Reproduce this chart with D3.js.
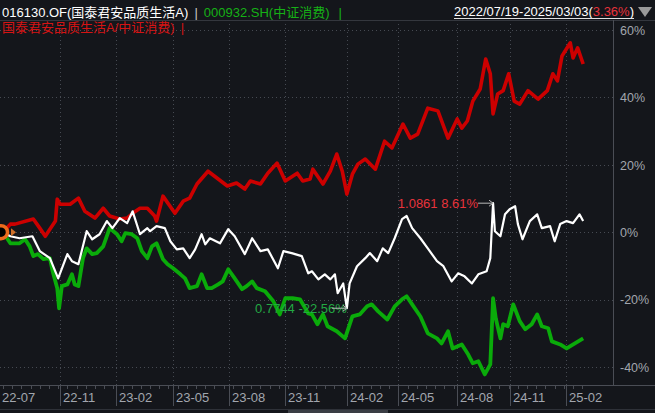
<!DOCTYPE html>
<html><head><meta charset="utf-8">
<script src="https://cdn.jsdelivr.net/npm/d3@7/dist/d3.min.js"></script>
<style>
html,body{margin:0;padding:0;background:#14161b;overflow:hidden}
svg{display:block}
</style></head><body>
<svg id="c" width="655" height="413"></svg>
<script>
// ---- data (trading-day index from 2022-07-19, cumulative return %) ----
const tickLabels = ["22-07","22-11","23-02","23-05","23-08","23-11","24-02","24-05","24-08","24-11","25-02"];
const tickDays   = [0, 62, 123, 185, 246, 307, 374, 430, 494, 551, 612];
const yTicks = [-40, -20, 0, 20, 40, 60];

const redDays = [0,8,13,33,40,46,51,57,59,62,73,82,89,100,109,116,127,135,141,149,157,165,167,174,187,196,203,211,223,233,244,254,263,269,280,288,298,307,320,326,334,337,348,356,363,369,374,380,386,394,405,415,423,435,443,451,462,473,484,494,499,505,511,519,525,530,533,538,544,550,556,562,571,582,592,598,603,608,617,620,625,631];
const redPct  = [0,2.4,2.4,3.9,1.2,-1.2,0.9,3.3,9.8,8.3,8.3,10.1,6.2,4.2,7.1,4.8,3.9,4.2,5.6,7.1,7.1,4.8,3.3,10.7,5.6,9.2,10.1,14.3,18.1,16.0,13.7,14.6,12.8,15.2,14.3,17.5,20.5,15.2,17.5,15.2,15.8,18.7,14.3,18.1,23.2,18.1,11.3,17.2,20.2,21.7,18.7,27.0,25.0,32.1,27.9,29.1,36.8,36.0,27.9,33.6,30.9,33.0,38.9,42.5,51.4,47.0,35.1,41.0,42.0,47.0,38.9,38.0,42.0,39.5,42.0,47.0,44.9,52.3,56.2,51.7,54.7,49.9];

const greenDays = [0,8,18,24,29,33,38,44,51,54,59,61,64,70,75,78,82,87,91,97,102,109,116,124,129,133,140,146,151,157,162,167,174,179,185,193,198,203,211,216,222,227,234,239,245,252,260,265,271,276,285,294,301,307,315,323,332,336,342,348,353,363,372,380,388,396,401,408,418,426,434,439,445,454,462,472,477,484,489,499,506,511,517,524,530,532,533,536,541,544,549,555,562,568,575,581,586,593,597,606,613,622,631];
const greenPct  = [0,-3.3,-3.3,-2.1,-4.2,-7.1,-6.5,-8.0,-7.7,-11.6,-16.6,-22.6,-16.0,-15.5,-12.5,-15.5,-16.0,-7.7,-4.8,-6.5,-6.2,-4.2,1.2,-0.6,-2.7,-0.3,-0.6,-1.8,-5.6,-7.7,-4.2,-3.3,-8.0,-9.5,-10.7,-12.5,-13.7,-16.6,-16.0,-12.5,-16.6,-16.6,-15.5,-14.6,-11.0,-13.7,-16.9,-16.0,-14.6,-16.6,-17.5,-20.5,-24.4,-19.6,-19.6,-19.9,-24.1,-24.4,-27.3,-24.4,-27.9,-29.4,-31.5,-25.0,-24.4,-22.0,-21.4,-23.5,-25.9,-22.0,-19.9,-19.0,-21.4,-25.0,-30.0,-31.5,-33.0,-29.4,-34.5,-33.3,-36.3,-38.9,-38.3,-42.2,-39.2,-26.4,-19.6,-25.6,-31.5,-27.3,-27.9,-21.4,-26.4,-28.8,-27.3,-24.4,-27.9,-28.5,-32.4,-33.3,-34.5,-33.0,-31.5];

const whiteDays = [0,8,18,32,40,51,60,70,75,82,91,97,105,113,119,127,135,141,149,157,160,167,176,182,189,196,203,209,216,220,225,236,245,252,263,271,280,288,299,305,314,325,332,336,343,350,356,361,364,370,374,377,385,394,399,407,413,419,426,434,439,445,454,462,472,479,488,495,502,510,517,526,530,533,535,541,546,551,557,560,565,573,581,586,595,600,606,613,620,627,631];
const whitePct  = [0,-1.2,-1.8,-1.2,-5.6,-7.7,-13.7,-6.5,-8.6,-9.5,0.3,-2.1,-0.6,3.3,1.2,4.2,2.7,6.2,-0.6,1.2,0.3,1.8,1.2,-2.7,-5.1,-4.8,-7.7,-5.1,-0.6,-3.6,-1.8,-3.3,0.9,-1.2,-6.5,-1.8,-5.6,-5.1,-10.7,-5.6,-6.2,-7.1,-12.2,-11.6,-14.0,-12.5,-14.0,-12.5,-18.1,-15.2,-22.56,-15.2,-10.1,-7.7,-6.2,-8.6,-4.8,-6.2,-1.8,3.9,4.8,1.2,-1.8,-4.8,-8.6,-10.1,-14.6,-12.2,-13.1,-15.2,-12.5,-11.6,-7.7,8.61,0.3,-1.2,5.3,6.8,7.7,2.4,-2.1,3.3,5.3,1.2,1.8,-2.7,2.4,3.3,2.7,5.3,3.3];

const maxLabel = "1.0861 8.61%";
const minLabel = "0.7744 -22.56%";

// ---- layout ----
const W = 655, H = 413;
const plot = {left: 0, right: 613, top: 20, bottom: 385};
const FONT = "'Liberation Sans','Noto Sans CJK SC',sans-serif";
const svg = d3.select("#c");

const x = d3.scaleLinear().domain([0, 633]).range([3, 585]);
const y = d3.scaleLinear().domain([-40, 60]).range([367, 30]);

svg.append("rect").attr("width", W).attr("height", H).attr("fill", "#14161b");

// grid
const grid = svg.append("g");
grid.selectAll("line.h").data(yTicks).join("line")
  .attr("x1", plot.left).attr("x2", plot.right)
  .attr("y1", d => Math.round(y(d)) + 0.5).attr("y2", d => Math.round(y(d)) + 0.5)
  .attr("stroke", "#464a52").attr("stroke-dasharray", "1,3");
grid.selectAll("line.v").data(tickDays.slice(1)).join("line")
  .attr("x1", d => Math.round(x(d)) + 0.5).attr("x2", d => Math.round(x(d)) + 0.5)
  .attr("y1", plot.top).attr("y2", plot.bottom)
  .attr("stroke", "#464a52").attr("stroke-dasharray", "1,3");

// frame lines
svg.append("line").attr("x1", 0).attr("x2", W).attr("y1", 20.5).attr("y2", 20.5).attr("stroke", "#34373e");
svg.append("line").attr("x1", 0).attr("x2", W).attr("y1", plot.bottom + 0.5).attr("y2", plot.bottom + 0.5).attr("stroke", "#4a4d55");
svg.append("line").attr("x1", plot.right + 0.5).attr("x2", plot.right + 0.5).attr("y1", 20).attr("y2", plot.bottom).attr("stroke", "#4a4d55");
svg.append("line").attr("x1", 0).attr("x2", W).attr("y1", 409.5).attr("y2", 409.5).attr("stroke", "#2e3138");
svg.append("rect").attr("x", 288).attr("y", 410).attr("width", 100).attr("height", 3).attr("fill", "#3a3d44");

// right axis
const yAxis = d3.axisRight(y).tickValues(yTicks).tickSize(0).tickFormat(d => d + "%");
const ya = svg.append("g").attr("transform", `translate(${plot.right + 4},0)`).call(yAxis);
ya.select(".domain").remove();
ya.selectAll("text").attr("fill", "#a2a6ae").attr("font-size", 12.5).attr("font-family", FONT).attr("dy", "0.35em");

// bottom axis
const minor = d3.range(0, 633, 10);
svg.append("g").selectAll("line").data(minor).join("line")
  .attr("x1", d => Math.round(x(d)) + 0.5).attr("x2", d => Math.round(x(d)) + 0.5)
  .attr("y1", plot.bottom).attr("y2", plot.bottom + 4).attr("stroke", "#4a4d55");
const xa = svg.append("g");
xa.selectAll("line").data(tickDays.slice(1)).join("line")
  .attr("x1", d => Math.round(x(d)) + 0.5).attr("x2", d => Math.round(x(d)) + 0.5)
  .attr("y1", plot.bottom).attr("y2", plot.bottom + 21).attr("stroke", "#4a4d55");
xa.selectAll("text").data(tickLabels).join("text")
  .attr("x", (d, i) => i === 0 ? 2 : Math.round(x(tickDays[i])) + 3)
  .attr("y", 397).attr("dy", "0.35em")
  .attr("fill", "#a2a6ae").attr("font-size", 13).attr("font-family", FONT)
  .text(d => d);

// series
const mk = (days, vals) => days.map((d, i) => [d, vals[i]]);
const red = mk(redDays, redPct), green = mk(greenDays, greenPct), white = mk(whiteDays, whitePct);
const line = d3.line().x(d => x(d[0])).y(d => y(d[1]));
svg.append("path").datum(red).attr("d", line).attr("fill", "none").attr("stroke", "#cc0000").attr("stroke-width", 3.6).attr("stroke-linejoin", "round");
svg.append("path").datum(green).attr("d", line).attr("fill", "none").attr("stroke", "#0aab0a").attr("stroke-width", 3.8).attr("stroke-linejoin", "round");
svg.append("path").datum(white).attr("d", line).attr("fill", "none").attr("stroke", "#ffffff").attr("stroke-width", 2.2).attr("stroke-linejoin", "round");

// annotations on white line
const maxPt = white.reduce((a, b) => b[1] > a[1] ? b : a);
const minPt = white.reduce((a, b) => b[1] < a[1] ? b : a);
function annotate(pt, label, color, gap) {
  const px = x(pt[0]), py = y(pt[1]);
  svg.append("text").attr("x", px - gap).attr("y", py).attr("dy", "0.35em")
    .attr("text-anchor", "end").attr("fill", color).attr("font-size", 13).attr("font-family", FONT).text(label);
  svg.append("line").attr("x1", px - 15).attr("x2", px).attr("y1", py).attr("y2", py).attr("stroke", "#b8b8b8");
  svg.append("path").attr("d", `M${px - 4},${py - 3}L${px},${py}L${px - 4},${py + 3}`).attr("fill", "none").attr("stroke", "#b8b8b8");
}
annotate(maxPt, maxLabel, "#e8333b", 15);
annotate(minPt, minLabel, "#23a843", 0);

// start marker
svg.append("circle").attr("cx", 1).attr("cy", y(0)).attr("r", 6.5).attr("fill", "#000").attr("stroke", "#ec6a1c").attr("stroke-width", 3.5);
svg.append("path").attr("d", `M11,${y(0) - 4}L16,${y(0)}L11,${y(0) + 4}Z`).attr("fill", "#d0702a");

// header (chained so separators follow text ends)
const hdr = svg.append("g").attr("font-family", FONT).attr("font-size", 13);
function put(xp, yp, color, txt) {
  const t = hdr.append("text").attr("x", xp).attr("y", yp).attr("fill", color).text(txt);
  return xp + t.node().getComputedTextLength();
}
let cx = put(2, 17, "#ffffff", "016130.OF(国泰君安品质生活A)");
cx = put(cx + 6, 17, "#c8c8c8", "|");
cx = put(cx + 6, 17, "#16b016", "000932.SH(中证消费)");
put(cx + 9, 17, "#16b016", "|");
cx = put(2, 32, "#d41414", "国泰君安品质生活A/中证消费)");
put(cx + 6, 32, "#d41414", "|");

const dt = hdr.append("text").attr("x", 454).attr("y", 16).attr("font-size", 13);
dt.append("tspan").attr("fill", "#ffffff").text("2022/07/19-2025/03/03(");
dt.append("tspan").attr("fill", "#e8333b").text("3.36%");
dt.append("tspan").attr("fill", "#ffffff").text(")");
const dtw = dt.node().getComputedTextLength();
svg.append("line").attr("x1", 454).attr("x2", 454 + dtw).attr("y1", 18.5).attr("y2", 18.5).attr("stroke", "#e0e0e0");
svg.append("path").attr("d", "M638,7L652,7L645,17Z").attr("fill", "#9a9a9a");
</script>
</body></html>
